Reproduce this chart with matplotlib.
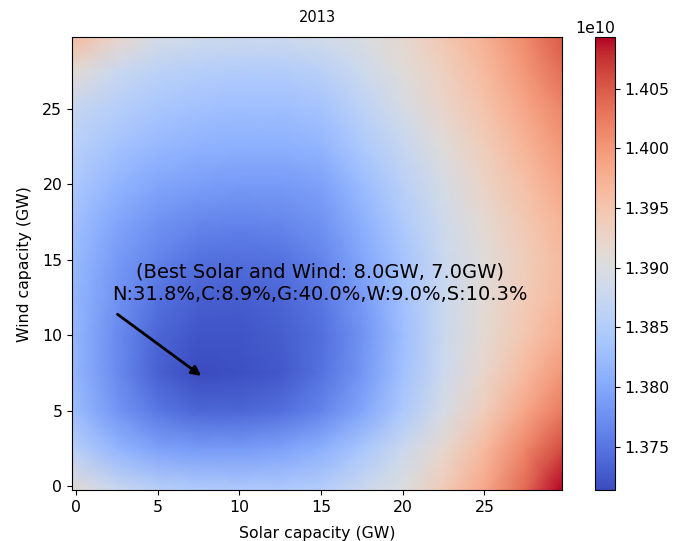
import numpy as np
import matplotlib
matplotlib.use("Agg")
import matplotlib.pyplot as plt

solar_gw = [0, 2.5, 5, 7.5, 10, 12.5, 15, 17.5, 20, 22.5, 25, 27.5, 29.5]
wind_gw = [0, 2.5, 5, 7.5, 10, 12.5, 15, 17.5, 20, 22.5, 25, 27.5, 29.5]

# Cost values in units of 1e10; rows = wind (bottom -> top), cols = solar
cost_1e10 = [
    [1.3911, 1.3877, 1.3858, 1.3850, 1.3846, 1.3846, 1.3854, 1.3877, 1.3903, 1.3941, 1.3986, 1.4039, 1.4092],
    [1.3858, 1.3816, 1.3793, 1.3786, 1.3786, 1.3793, 1.3809, 1.3839, 1.3877, 1.3918, 1.3963, 1.4016, 1.4058],
    [1.3827, 1.3782, 1.3752, 1.3737, 1.3737, 1.3744, 1.3763, 1.3797, 1.3843, 1.3892, 1.3937, 1.3986, 1.4024],
    [1.3820, 1.3771, 1.3733, 1.3714, 1.3718, 1.3725, 1.3748, 1.3782, 1.3831, 1.3880, 1.3922, 1.3963, 1.4001],
    [1.3820, 1.3771, 1.3737, 1.3722, 1.3722, 1.3729, 1.3744, 1.3778, 1.3827, 1.3877, 1.3914, 1.3948, 1.3979],
    [1.3820, 1.3778, 1.3748, 1.3733, 1.3729, 1.3737, 1.3752, 1.3786, 1.3831, 1.3877, 1.3911, 1.3941, 1.3967],
    [1.3824, 1.3786, 1.3763, 1.3748, 1.3744, 1.3748, 1.3763, 1.3797, 1.3835, 1.3877, 1.3907, 1.3937, 1.3963],
    [1.3831, 1.3797, 1.3778, 1.3767, 1.3763, 1.3767, 1.3778, 1.3809, 1.3846, 1.3884, 1.3914, 1.3945, 1.3971],
    [1.3843, 1.3816, 1.3797, 1.3790, 1.3786, 1.3786, 1.3793, 1.3824, 1.3858, 1.3892, 1.3926, 1.3956, 1.3986],
    [1.3858, 1.3835, 1.3820, 1.3812, 1.3809, 1.3809, 1.3816, 1.3843, 1.3873, 1.3907, 1.3937, 1.3971, 1.4001],
    [1.3873, 1.3854, 1.3839, 1.3831, 1.3827, 1.3827, 1.3835, 1.3861, 1.3892, 1.3922, 1.3952, 1.3986, 1.4016],
    [1.3914, 1.3877, 1.3861, 1.3854, 1.3850, 1.3850, 1.3858, 1.3880, 1.3907, 1.3933, 1.3963, 1.4001, 1.4035],
    [1.3963, 1.3922, 1.3892, 1.3884, 1.3880, 1.3880, 1.3888, 1.3899, 1.3918, 1.3945, 1.3975, 1.4013, 1.4050],
]
cbar_min_1e10 = 1.3714
cbar_max_1e10 = 1.4093

best_solar, best_wind = 8.0, 7.0
mix = {"N": 31.8, "C": 8.9, "G": 40.0, "W": 9.0, "S": 10.3}
year = "2013"

plt.rcParams["font.size"] = 11.3

fig = plt.figure(figsize=(6.73, 5.41), dpi=100)
ax = fig.add_axes([0.107, 0.0943, 0.728, 0.837])
cax = fig.add_axes([0.884, 0.0943, 0.0297, 0.837])

Z = np.array(cost_1e10) * 1e10
xs = np.array(solar_gw, dtype=float)
ys = np.array(wind_gw, dtype=float)
# stretch the outer samples to the image edges (half a 0.5 GW cell)
xs[0] -= 0.25; xs[-1] += 0.25
ys[0] -= 0.25; ys[-1] += 0.25
X, Y = np.meshgrid(xs, ys)
mesh = ax.pcolormesh(X, Y, Z, shading="gouraud", cmap="coolwarm",
                     vmin=cbar_min_1e10 * 1e10, vmax=cbar_max_1e10 * 1e10)
ax.set_xlim(-0.25, 29.75)
ax.set_ylim(-0.25, 29.75)
ax.set_xticks([0, 5, 10, 15, 20, 25])
ax.set_yticks([0, 5, 10, 15, 20, 25])
ax.set_xlabel("Solar capacity (GW)", labelpad=8)
ax.set_ylabel("Wind capacity (GW)", labelpad=7)
ax.set_title(year, fontsize=10.5, pad=11)

cb = fig.colorbar(mesh, cax=cax)

label = ("(Best Solar and Wind: %.1fGW, %.1fGW)\n" % (best_solar, best_wind)
         + ",".join("%s:%.1f%%" % (k, v) for k, v in mix.items()))
ax.text(14.95, 13.45, label, ha="center", va="center", fontsize=14)
ax.annotate("", xy=(best_solar - 0.2, best_wind + 0.2), xytext=(2.4, 11.5),
            arrowprops=dict(arrowstyle="-|>", color="black", lw=2, mutation_scale=14))

fig.savefig("out.png", dpi=100)
